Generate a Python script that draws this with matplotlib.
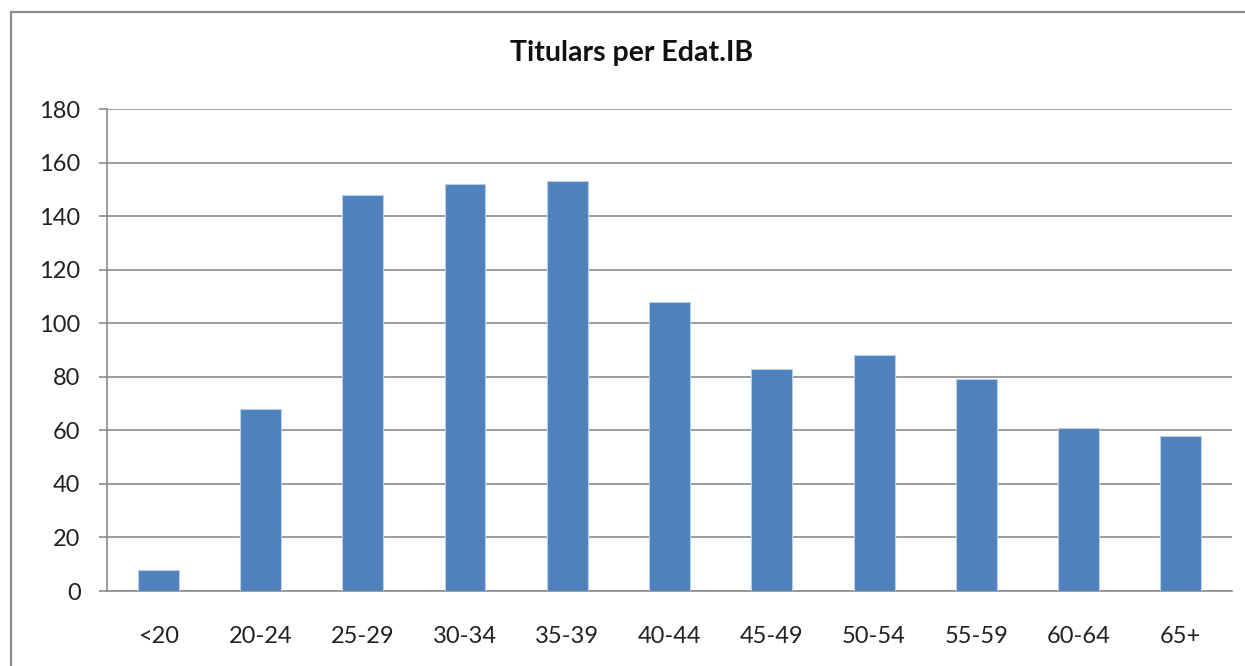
import matplotlib
matplotlib.use("Agg")
import matplotlib.pyplot as plt
from matplotlib.patches import Rectangle

categories = ["<20", "20-24", "25-29", "30-34", "35-39", "40-44",
              "45-49", "50-54", "55-59", "60-64", "65+"]
values = [8, 68, 148, 152, 153, 108, 83, 88, 79, 61, 58]
yticks = [0, 20, 40, 60, 80, 100, 120, 140, 160, 180]
title = "Titulars per Edat.IB"

plt.rcParams['font.family'] = ['Lato', 'DejaVu Sans']

W, H = 1245, 666
fig = plt.figure(figsize=(W / 100, H / 100), dpi=100)
fig.patch.set_facecolor("white")

# outer chart frame
fig.add_artist(Rectangle((10.5 / W, -0.05), 1.2, 1 - 11.5 / H + 0.05,
                         transform=fig.transFigure, fill=False,
                         edgecolor="#8c8c8c", linewidth=1.6))

ax = fig.add_axes([107 / W, (H - 591) / H, (1232 - 107) / W, (591 - 109) / H])
x = list(range(len(categories)))
ax.bar(x, values, width=0.4, color="#4F81BD", edgecolor="#B9CDE5",
       linewidth=0.8, zorder=3)

ax.set_xlim(-0.5, len(categories) - 0.5)
ax.set_ylim(0, 180)
ax.set_yticks(yticks)
ax.set_yticklabels([str(v) for v in yticks])
ax.set_xticks(x)
ax.set_xticklabels(categories)

ax.grid(axis="y", color="#8c8c8c", linewidth=1.2, zorder=0)
ax.set_axisbelow(True)

for s in ["top", "right"]:
    ax.spines[s].set_visible(False)
ax.spines["left"].set_color("#8c8c8c")
ax.spines["left"].set_linewidth(1.2)
ax.spines["bottom"].set_color("#8c8c8c")
ax.spines["bottom"].set_linewidth(1.2)

ax.tick_params(axis="y", length=6, width=1.2, color="#8c8c8c",
               pad=13, labelsize=17, labelcolor="#222222")
ax.tick_params(axis="x", length=0, pad=25, labelsize=17,
               labelcolor="#222222")

fig.text(632 / W, 1 - 53 / H, title, ha="center", va="center",
         fontsize=20.5, fontweight="bold", color="#111111")

fig.savefig("out.png", dpi=100)
